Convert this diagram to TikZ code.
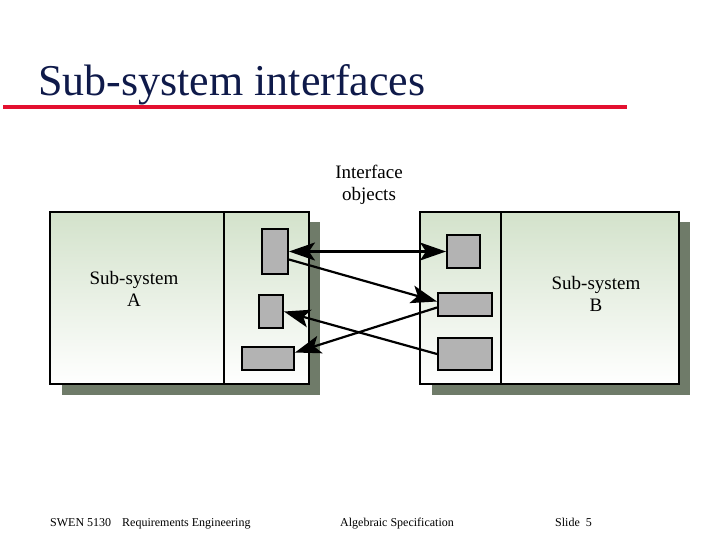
\documentclass[tikz,border=0pt]{standalone}
\usepackage{fontspec}
\setmainfont{Liberation Serif}
\usetikzlibrary{arrows.meta}
\definecolor{titleblue}{HTML}{0F1A4A}
\definecolor{rulered}{HTML}{E3102F}
\definecolor{shadowgray}{HTML}{6F7B69}
\definecolor{boxgreen}{HTML}{D3E2CB}
\definecolor{objgray}{HTML}{B3B3B3}
\tikzset{
  sysbox/.style={draw=black, line width=2pt, top color=boxgreen, bottom color=white, inner sep=0pt, anchor=north west},
  shadowbox/.style={fill=shadowgray, draw=none, inner sep=0pt, anchor=north west},
  objbox/.style={draw=black, line width=2pt, fill=objgray, inner sep=0pt, anchor=north west},
  label/.style={font=\fontsize{19}{22}\selectfont, align=center, inner sep=0pt},
  foot/.style={font=\fontsize{12}{14}\selectfont, anchor=base west, inner sep=0pt},
  bigtip/.tip={Stealth[length=26pt,width=18pt,inset=6pt]},
  link/.style={line width=2.2pt, -bigtip},
  dlink/.style={line width=2.2pt, bigtip-bigtip}
}
\begin{document}
\begin{tikzpicture}[x=1pt,y=-1pt]
\useasboundingbox (0,0) rectangle (717,538);
% title
\node[anchor=base west, inner sep=0pt, text=titleblue, font=\fontsize{44}{50}\selectfont] (title) at (38,95) {Sub-system interfaces};
\draw[rulered, line width=4pt] (3,106.5) coordinate (r0) -- (627,106.5) coordinate (r1e);
% shadows
\node[shadowbox, minimum width=258pt, minimum height=173pt] (shA) at (62,222) {};
\node[shadowbox, minimum width=258pt, minimum height=173pt] (shB) at (432,222) {};
% boxes
\node[sysbox, minimum width=259pt, minimum height=172pt] (A) at (49,211) {};
\node[sysbox, minimum width=259pt, minimum height=172pt] (B) at (419,211) {};
\draw[line width=2pt] (224,211) coordinate (dA1) -- (224,383) coordinate (dA2);
\draw[line width=2pt] (501,211) coordinate (dB1) -- (501,383) coordinate (dB2);
% labels
\node[label] (la) at (134,289) {Sub-system\\A};
\node[label] (lb) at (596,294) {Sub-system\\B};
\node[label] (lint) at (369,185) {Interface\\objects};
% interface objects
\node[objbox, minimum width=26pt, minimum height=45pt] (ra) at (261,228) {};
\node[objbox, minimum width=24pt, minimum height=33pt] (rb) at (258,294) {};
\node[objbox, minimum width=52pt, minimum height=23pt] (rc) at (241,346) {};
\node[objbox, minimum width=33pt, minimum height=33pt] (sa) at (446,234) {};
\node[objbox, minimum width=54pt, minimum height=23pt] (sb) at (437,292) {};
\node[objbox, minimum width=54pt, minimum height=32pt] (sc) at (437,337) {};
% connectors
\draw[dlink] (ra.east) -- (sa.west);
\draw[link] ([yshift=-8pt]ra.east) -- ([yshift=3pt]sb.west);
\draw[link] ([yshift=-3pt]sb.west) -- ([yshift=6pt]rc.east);
\draw[link] (sc.west) -- (rb.east);
% footer
\node[foot] (f1) at (50,526) {SWEN 5130};
\node[foot] (f2) at (122,526) {Requirements Engineering};
\node[foot] (f3) at (340,526) {Algebraic Specification};
\node[foot] (f4) at (555,526) {Slide\hspace{6pt}5};
\end{tikzpicture}
\end{document}
